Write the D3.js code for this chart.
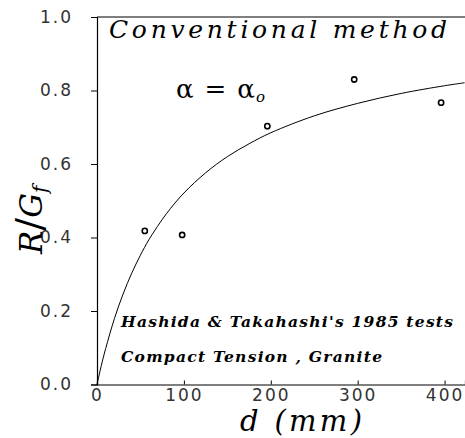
<!DOCTYPE html>
<html><head><meta charset="utf-8">
<script src="https://cdn.jsdelivr.net/npm/d3@7/dist/d3.min.js"></script>
<style>body{margin:0;background:#fff}</style></head>
<body><svg id="c" width="465" height="438"></svg>
<script>
// measured points
const testD = [55, 98, 196, 296, 396];
const testR = [0.418, 0.407, 0.703, 0.830, 0.767];
// theoretical curve
const curveD = [0, 5, 10, 20, 30, 40, 50, 60, 80, 100, 125, 150, 175, 200, 250, 300, 350, 400, 423];
const curveR = [0, 0.052, 0.098, 0.179, 0.246, 0.303, 0.352, 0.395, 0.465, 0.521, 0.576, 0.62, 0.655, 0.685, 0.731, 0.765, 0.792, 0.813, 0.821];
const xTicks = [0, 100, 200, 300, 400];
const yTicks = [0.0, 0.2, 0.4, 0.6, 0.8, 1.0];

const svg = d3.select("#c");
const x = d3.scaleLinear().domain([0, 423.5]).range([97, 465]);
const y = d3.scaleLinear().domain([0, 1]).range([384.5, 17]);

svg.append("line").attr("x1", 97).attr("x2", 465).attr("y1", y(1)).attr("y2", y(1)).attr("stroke", "#000").attr("stroke-width", 1.2);

const yAxis = svg.append("g").attr("transform", "translate(97,0)")
  .call(d3.axisLeft(y).tickValues(yTicks).tickFormat(d3.format(".1f")).tickSize(6).tickPadding(18));
const xAxis = svg.append("g").attr("transform", "translate(0,384.5)")
  .call(d3.axisBottom(x).tickValues(xTicks).tickFormat(d3.format("d")).tickSize(-4).tickPadding(2));
[yAxis, xAxis].forEach(g => {
  g.select(".domain").attr("stroke", "#000").attr("stroke-width", 1.2);
  g.selectAll(".tick line").attr("stroke", "#000").attr("stroke-width", 1);
  g.selectAll("text").attr("font-family", "DejaVu Sans").attr("font-size", 17)
    .attr("fill", "#333").attr("letter-spacing", 2);
});
xAxis.selectAll("text").attr("dy", "0.85em");

const pts = curveD.map((d, i) => [d, curveR[i]]);
svg.append("path").datum(pts)
  .attr("d", d3.line().x(d => x(d[0])).y(d => y(d[1])).curve(d3.curveCatmullRom))
  .attr("fill", "none").attr("stroke", "#000").attr("stroke-width", 1);

svg.selectAll("circle.p").data(testD.map((d, i) => [d, testR[i]])).enter().append("circle")
  .attr("cx", d => x(d[0])).attr("cy", d => y(d[1])).attr("r", 2.6)
  .attr("fill", "#fff").attr("stroke", "#000").attr("stroke-width", 1.6);

svg.append("text").attr("x", 109).attr("y", 38).attr("font-family", "DejaVu Serif")
  .attr("font-style", "italic").attr("font-size", 25).attr("textLength", 338)
  .attr("lengthAdjust", "spacing").text("Conventional method");

const a = svg.append("text").attr("x", 176).attr("y", 98).attr("font-family", "DejaVu Serif")
  .attr("font-size", 26);
a.append("tspan").text("α");
a.append("tspan").attr("dx", 11).text("=");
a.append("tspan").attr("dx", 11).text("α");
a.append("tspan").attr("font-size", 15).attr("font-style", "italic").attr("dy", 4).attr("dx", 1).text("o");

svg.append("text").attr("x", 121).attr("y", 327).attr("font-family", "DejaVu Serif")
  .attr("font-style", "italic").attr("font-weight", "bold").attr("font-size", 15.5)
  .attr("textLength", 332).attr("lengthAdjust", "spacing").text("Hashida & Takahashi's 1985 tests");
svg.append("text").attr("x", 121).attr("y", 362).attr("font-family", "DejaVu Serif")
  .attr("font-style", "italic").attr("font-weight", "bold").attr("font-size", 15.5)
  .attr("textLength", 261).attr("lengthAdjust", "spacing").text("Compact Tension , Granite");

svg.append("text").attr("x", 240).attr("y", 431).attr("font-family", "DejaVu Serif")
  .attr("font-style", "italic").attr("font-size", 29).attr("textLength", 122)
  .attr("lengthAdjust", "spacing").text("d (mm)");

const yl = svg.append("text").attr("transform", "translate(42,254) rotate(-90)")
  .attr("font-family", "DejaVu Serif").attr("font-style", "italic").attr("font-size", 31);
yl.append("tspan").text("R");
yl.append("tspan").attr("font-style", "normal").attr("font-size", 38).text("/");
yl.append("tspan").text("G");
yl.append("tspan").attr("font-size", 20).attr("dy", 5).text("f");
</script></body></html>
